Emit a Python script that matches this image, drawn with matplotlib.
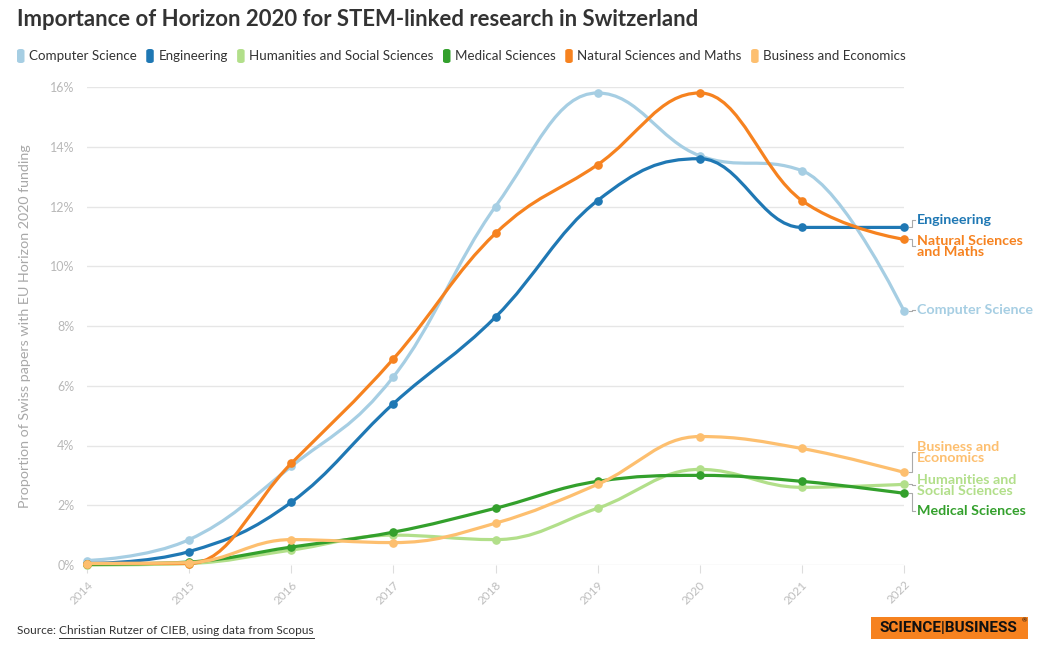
import matplotlib
matplotlib.use("Agg")
import matplotlib.pyplot as plt
from matplotlib.path import Path
from matplotlib.patches import PathPatch, FancyBboxPatch, Rectangle
from matplotlib.lines import Line2D

plt.rcParams['font.family'] = ['Lato', 'DejaVu Sans']

# ---------------- data ----------------
years = [2014, 2015, 2016, 2017, 2018, 2019, 2020, 2021, 2022]
series_names = ["Computer Science", "Engineering", "Humanities and Social Sciences",
                "Medical Sciences", "Natural Sciences and Maths", "Business and Economics"]
computer_science = [0.15, 0.85, 3.3, 6.3, 12.0, 15.8, 13.7, 13.2, 8.5]
engineering      = [0.05, 0.45, 2.1, 5.4, 8.3, 12.2, 13.6, 11.3, 11.3]
humanities       = [0.0, 0.05, 0.5, 1.0, 0.85, 1.9, 3.2, 2.6, 2.7]
medical          = [0.02, 0.1, 0.6, 1.1, 1.9, 2.8, 3.0, 2.8, 2.4]
natural          = [0.05, 0.05, 3.4, 6.9, 11.1, 13.4, 15.8, 12.2, 10.9]
business         = [0.05, 0.08, 0.85, 0.75, 1.4, 2.7, 4.3, 3.9, 3.1]
yticks = [0, 2, 4, 6, 8, 10, 12, 14, 16]
end_labels = ["Computer Science", "Engineering", "Humanities and\nSocial Sciences",
              "Medical Sciences", "Natural Sciences\nand Maths", "Business and\nEconomics"]

# ---------------- style ----------------
colors = ["#a6cee3", "#1f78b4", "#b2df8a", "#33a02c", "#f6821f", "#fdbf6f"]
label_offsets_px = [-1, -7, 1, 18, 7, -20]  # label centre offset vs end point (pixels, down +)

W, H = 1050, 650
fig = plt.figure(figsize=(W / 100, H / 100), dpi=100)
L, R, T, B = 87, 904, 87, 565
ax = fig.add_axes([L / W, 1 - B / H, (R - L) / W, (B - T) / H])
ax.set_xlim(years[0], years[-1])
ax.set_ylim(0, 16)


def hc_spline(xs, ys, smoothing=1.5):
    n = len(xs)
    left = [None] * n
    right = [None] * n
    d = smoothing + 1
    for i in range(1, n - 1):
        px, py = xs[i], ys[i]
        lx, ly = xs[i - 1], ys[i - 1]
        nx, ny = xs[i + 1], ys[i + 1]
        lcx = (smoothing * px + lx) / d
        lcy = (smoothing * py + ly) / d
        rcx = (smoothing * px + nx) / d
        rcy = (smoothing * py + ny) / d
        if rcx != lcx:
            corr = ((rcy - lcy) * (rcx - px)) / (rcx - lcx) + py - rcy
            lcy += corr
            rcy += corr
        if lcy > ly and lcy > py:
            lcy = max(ly, py); rcy = 2 * py - lcy
        elif lcy < ly and lcy < py:
            lcy = min(ly, py); rcy = 2 * py - lcy
        if rcy > ny and rcy > py:
            rcy = max(ny, py); lcy = 2 * py - rcy
        elif rcy < ny and rcy < py:
            rcy = min(ny, py); lcy = 2 * py - rcy
        left[i] = (lcx, lcy)
        right[i] = (rcx, rcy)
    verts = [(xs[0], ys[0])]
    codes = [Path.MOVETO]
    for i in range(1, n):
        c1 = right[i - 1] or (xs[i - 1], ys[i - 1])
        c2 = left[i] or (xs[i], ys[i])
        verts += [c1, c2, (xs[i], ys[i])]
        codes += [Path.CURVE4] * 3
    return Path(verts, codes)


# grid
for v in yticks:
    ax.axhline(v, color="#e6e6e6", lw=1.0, zorder=0)
for s in ax.spines.values():
    s.set_visible(False)
ax.set_yticks(yticks)
ax.set_yticklabels([f"{v}%" for v in yticks])
ax.tick_params(axis='y', length=0, labelsize=9, labelcolor="#b8b8b8", pad=9)
ax.set_xticks(years)
ax.set_xticklabels([str(y) for y in years], rotation=45, ha='right', rotation_mode='anchor')
ax.tick_params(axis='x', length=6, color="#dddddd", labelsize=8.5, labelcolor="#bdbdbd", pad=4)
ax.set_ylabel("Proportion of Swiss papers with EU Horizon 2020 funding", color="#a8a8a8",
              fontsize=10.3, labelpad=14)

all_series = [computer_science, engineering, humanities, medical, natural, business]
for k, (vals, c) in enumerate(zip(all_series, colors)):
    p = hc_spline(years, vals)
    ax.add_patch(PathPatch(p, facecolor='none', edgecolor=c, lw=2.3, capstyle='round',
                           joinstyle='round', clip_on=False, zorder=2 + k))
    ax.plot(years, vals, 'o', color=c, ms=5.2, clip_on=False, zorder=2 + k)

# end labels with connectors
fig.canvas.draw()
for vals, c, lab, off in zip(all_series, colors, end_labels, label_offsets_px):
    dx, dy = ax.transData.transform((years[-1], vals[-1]))
    py = H - dy
    ly = py + off
    xs = [dx + 5, dx + 8, dx + 8, dx + 11]
    ys = [py, py, ly, ly]
    fig.add_artist(Line2D([x / W for x in xs], [1 - y / H for y in ys], color="#aaaaaa", lw=0.8))
    fig.text((dx + 13) / W, 1 - ly / H, lab, color=c, fontsize=10.3, fontweight='bold',
             ha='left', va='center', linespacing=0.92)

# title
fig.text(17 / W, 1 - 20 / H, "Importance of Horizon 2020 for STEM-linked research in Switzerland",
         fontsize=15.9, fontweight='bold', color="#333333", ha='left', va='center')

# legend (manual)
renderer = fig.canvas.get_renderer()
x = 17
ly = 56
for name, c in zip(series_names, colors):
    fig.add_artist(FancyBboxPatch(((x) / W, 1 - (ly + 7) / H), 7.5 / W, 14 / H,
                                  boxstyle="round,pad=0,rounding_size=0.003",
                                  transform=fig.transFigure, facecolor=c, edgecolor='none'))
    t = fig.text((x + 12) / W, 1 - ly / H, name, fontsize=9.6, color="#333333",
                 ha='left', va='center')
    bb = t.get_window_extent(renderer)
    x = x + 12 + bb.width + 9.5

# source
t1 = fig.text(17 / W, 1 - 631 / H, "Source: ", fontsize=8.6, color="#333333", ha='left', va='center')
bb1 = t1.get_window_extent(renderer)
t2 = fig.text((17 + bb1.width) / W, 1 - 631 / H, "Christian Rutzer of CIEB, using data from Scopus",
              fontsize=8.6, color="#333333", ha='left', va='center')
bb2 = t2.get_window_extent(renderer)
fig.add_artist(Line2D([bb2.x0 / W, bb2.x1 / W], [(bb2.y0 - 1) / H] * 2, color="#333333", lw=0.7))

# logo
fig.add_artist(Rectangle((871 / W, 1 - 639 / H), 157 / W, 22 / H, transform=fig.transFigure,
                         facecolor="#f6821f", edgecolor='none'))
fig.text(948 / W, 1 - 628.5 / H, "SCIENCE|BUSINESS", fontsize=11, fontweight='bold',
         color="#111111", ha='center', va='center',
         family=['Liberation Sans Narrow', 'Roboto', 'DejaVu Sans'])
fig.text(1024 / W, 1 - 621 / H, "®", fontsize=4.5, color="#111111", ha='center', va='center')

fig.savefig("out.png", dpi=100)
